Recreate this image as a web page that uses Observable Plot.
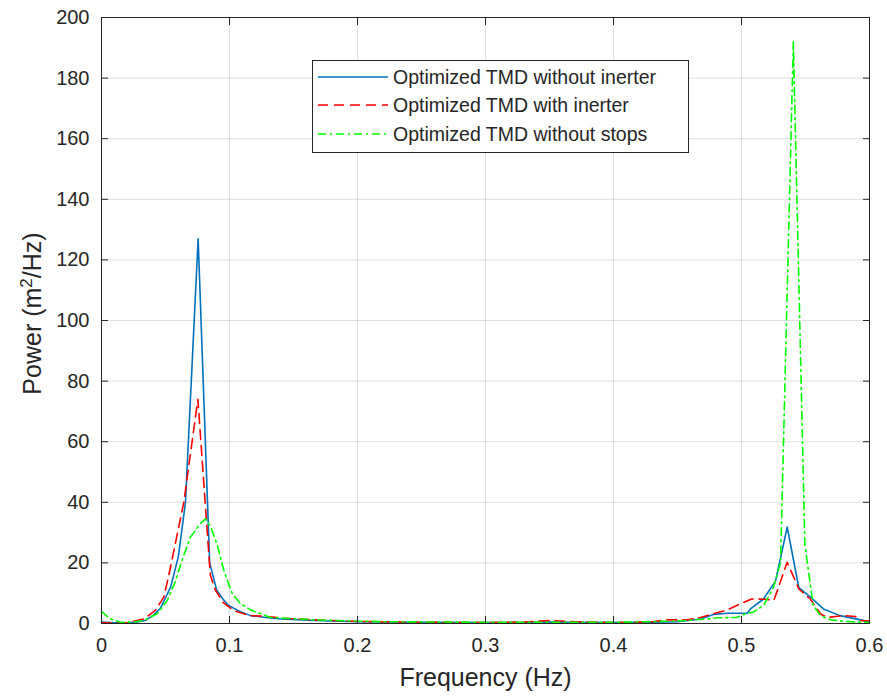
<!DOCTYPE html>
<html>
<head>
<meta charset="utf-8">
<script src="https://cdn.jsdelivr.net/npm/d3@7"></script>
<script src="https://cdn.jsdelivr.net/npm/@observablehq/plot@0.6"></script>
<style>
  html, body { margin: 0; padding: 0; background: white; }
  #wrap { position: relative; width: 887px; height: 697px; font-family: "Liberation Sans", Arial, sans-serif; }
  #legend { position: absolute; left: 312px; top: 60px; }
</style>
</head>
<body>
<div id="wrap"></div>
<script>
// ---- data ----
const seriesNames = ["Optimized TMD without inerter", "Optimized TMD with inerter", "Optimized TMD without stops"];
const seriesColors = ["#0072BD", "#FF0000", "#00FF00"];
const seriesDash = [null, "10,6", "8,4,2,4"];

const blueF = [0, 0.01, 0.02, 0.027, 0.034, 0.04, 0.046, 0.054, 0.06, 0.0656, 0.0755, 0.0845, 0.09, 0.095, 0.099, 0.108, 0.1164, 0.13, 0.14, 0.166, 0.2, 0.25, 0.3, 0.33, 0.35, 0.37, 0.4, 0.43, 0.45, 0.468, 0.478, 0.489, 0.5044, 0.507, 0.517, 0.5266, 0.5357, 0.5448, 0.5539, 0.564, 0.577, 0.593, 0.6];
const blueP = [0.5, 0.2, 0.2, 0.4, 1, 2.5, 5, 12, 22, 40, 127, 20, 11, 8, 6, 4, 2.6, 1.9, 1.5, 1, 0.6, 0.4, 0.3, 0.3, 0.5, 0.4, 0.3, 0.4, 0.6, 1.5, 3, 3.4, 3.4, 4.8, 8, 14, 31.8, 11.8, 8.7, 4.8, 2.6, 1.2, 0.4];

const redF = [0, 0.01, 0.02, 0.033, 0.042, 0.0487, 0.0526, 0.058, 0.0643, 0.0753, 0.085, 0.089, 0.095, 0.103, 0.116, 0.127, 0.14, 0.166, 0.2, 0.25, 0.3, 0.33, 0.35, 0.37, 0.4, 0.43, 0.442, 0.4575, 0.468, 0.478, 0.489, 0.499, 0.508, 0.5187, 0.5253, 0.5357, 0.5448, 0.5539, 0.5617, 0.567, 0.5797, 0.589, 0.593, 0.6];
const redP = [0.3, 0.1, 0.3, 1.5, 4.3, 8.7, 16, 27, 40, 74, 16, 11, 7, 4.3, 2.6, 2.4, 1.8, 1.2, 0.7, 0.4, 0.3, 0.5, 1.0, 0.6, 0.3, 0.6, 1.2, 1.2, 2, 3.2, 4.5, 6.5, 8.1, 8, 7.6, 20.2, 11.4, 8, 3.2, 2, 2.6, 2.3, 1, 0.8];

const greenF = [0, 0.007, 0.015, 0.025, 0.033, 0.0435, 0.0513, 0.0578, 0.063, 0.0695, 0.0773, 0.0813, 0.0852, 0.0904, 0.0956, 0.102, 0.1086, 0.1164, 0.132, 0.153, 0.18, 0.22, 0.3, 0.35, 0.4, 0.45, 0.473, 0.482, 0.4966, 0.503, 0.509, 0.5174, 0.525, 0.5305, 0.5405, 0.5495, 0.556, 0.562, 0.57, 0.58, 0.59, 0.6];
const greenP = [4, 1.5, 0.4, 0.5, 1, 3.2, 7.6, 14, 21, 28.5, 33, 34.5, 32, 26, 17.5, 10, 6.5, 4.5, 2, 1.5, 1, 0.6, 0.4, 0.4, 0.4, 0.8, 1.5, 1.9, 2, 3.2, 3.7, 6, 12, 20, 192, 26, 6, 2.5, 1.2, 0.7, 0.5, 0.3];

const xTicks = [0, 0.1, 0.2, 0.3, 0.4, 0.5, 0.6];
const xTickLabels = ["0", "0.1", "0.2", "0.3", "0.4", "0.5", "0.6"];
const yTicks = [0, 20, 40, 60, 80, 100, 120, 140, 160, 180, 200];
const yTickLabels = ["0", "20", "40", "60", "80", "100", "120", "140", "160", "180", "200"];
const xLabel = "Frequency (Hz)";
const yLabel = "Power (m2/Hz)";

// ---- build tables ----
const toRows = (F, P) => F.map((f, i) => ({f, p: P[i]}));
const series = [toRows(blueF, blueP), toRows(redF, redP), toRows(greenF, greenP)];

const axisColor = "#262626";

const chart = Plot.plot({
  width: 887,
  height: 697,
  marginLeft: 101,
  marginRight: 18,
  marginTop: 17,
  marginBottom: 74,
  style: { fontFamily: "'Liberation Sans', Arial, sans-serif", fontSize: "20px", color: axisColor, background: "white", overflow: "visible" },
  x: { domain: [0, 0.6] },
  y: { domain: [0, 200] },
  marks: [
    Plot.gridX(xTicks, { stroke: axisColor, strokeOpacity: 0.15, strokeWidth: 1 }),
    Plot.gridY(yTicks, { stroke: axisColor, strokeOpacity: 0.15, strokeWidth: 1 }),
    ...series.map((rows, i) => Plot.line(rows, {
      x: "f", y: "p",
      stroke: seriesColors[i],
      strokeWidth: 1.6,
      strokeDasharray: seriesDash[i],
      strokeLinejoin: "round"
    })),
    Plot.frame({ stroke: axisColor, strokeWidth: 1 }),
    Plot.axisX(xTicks, { anchor: "bottom", tickSize: -7, tickPadding: 21, tickFormat: (d, i) => xTickLabels[i], label: null, stroke: axisColor, fill: axisColor, fontSize: 20 }),
    Plot.axisX(xTicks, { anchor: "top", tickSize: -7, tickFormat: () => "", label: null, stroke: axisColor }),
    Plot.axisY(yTicks, { anchor: "left", tickSize: -7, tickPadding: 19, tickFormat: (d, i) => yTickLabels[i], label: null, stroke: axisColor, fill: axisColor, fontSize: 20 }),
    Plot.axisY(yTicks, { anchor: "right", tickSize: -7, tickFormat: () => "", label: null, stroke: axisColor }),
    Plot.text([xLabel], { frameAnchor: "bottom", textAnchor: "middle", dy: 62, fontSize: 25, fill: axisColor, text: d => d }),
    Plot.text([yLabel], { frameAnchor: "left", textAnchor: "middle", rotate: -90, dx: -69, dy: -7, fontSize: 25, fill: axisColor, text: d => d, className: "ylabel" })
  ]
});

const wrap = document.getElementById("wrap");
wrap.appendChild(chart);

// superscript "2" in the y label
d3.select(chart).selectAll("g.ylabel text").each(function () {
  const t = d3.select(this);
  t.text(null);
  t.append("tspan").text("Power (m");
  t.append("tspan").attr("baseline-shift", "super").attr("font-size", "68%").text("2");
  t.append("tspan").text("/Hz)");
});

// ---- legend (drawn inside the axes, like the original) ----
const lw = 376, lh = 92;
const legend = d3.create("svg")
  .attr("id", "legend")
  .attr("width", lw + 1)
  .attr("height", lh + 1)
  .style("font-family", "'Liberation Sans', Arial, sans-serif");
legend.append("rect")
  .attr("x", 0.5).attr("y", 0.5).attr("width", lw).attr("height", lh)
  .attr("fill", "white").attr("stroke", axisColor).attr("stroke-width", 1);
const rowY = [17, 45, 74];
seriesNames.forEach((name, i) => {
  legend.append("line")
    .attr("x1", 6).attr("x2", 76).attr("y1", rowY[i]).attr("y2", rowY[i])
    .attr("stroke", seriesColors[i]).attr("stroke-width", 1.6)
    .attr("stroke-dasharray", seriesDash[i]);
  legend.append("text")
    .attr("x", 81).attr("y", rowY[i]).attr("dy", "0.35em")
    .attr("font-size", 19.5).attr("fill", axisColor)
    .text(name);
});
wrap.appendChild(legend.node());
</script>
</body>
</html>
